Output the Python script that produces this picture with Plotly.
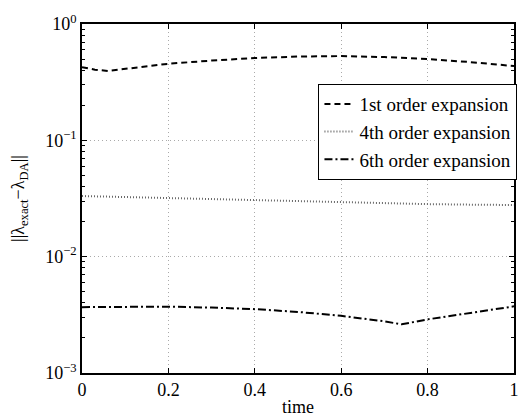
import plotly.graph_objects as go

# sample times and error norms for each expansion order
t_first = [0.0, 0.03, 0.06, 0.1, 0.2, 0.3, 0.4, 0.5, 0.6, 0.7, 0.8, 0.9, 1.0]
err_first = [0.425, 0.405, 0.395, 0.41, 0.455, 0.485, 0.51, 0.525, 0.53, 0.52, 0.50, 0.47, 0.435]

t_fourth = [0.0, 0.1, 0.2, 0.3, 0.4, 0.5, 0.6, 0.7, 0.8, 0.9, 1.0]
err_fourth = [0.0332, 0.0325, 0.0318, 0.0311, 0.0304, 0.0298, 0.0292, 0.0287, 0.0283, 0.0280, 0.0278]

t_sixth = [0.0, 0.1, 0.2, 0.3, 0.4, 0.5, 0.6, 0.7, 0.74, 0.8, 0.9, 1.0]
err_sixth = [0.00368, 0.00372, 0.00372, 0.00365, 0.00354, 0.00335, 0.0031, 0.00278, 0.00262, 0.00289, 0.00328, 0.00374]

y_ticks = [1e-3, 1e-2, 1e-1, 1.0]
y_ticktext = ["10<sup>−3</sup>", "10<sup>−2</sup>", "10<sup>−1</sup>", "10<sup>0</sup>"]
x_ticks = [0, 0.2, 0.4, 0.6, 0.8, 1]
x_ticktext = ["0", "0.2", "0.4", "0.6", "0.8", "1"]

FONT = "Liberation Serif"

minor_y = [m * 10 ** e for e in (-3, -2, -1) for m in range(2, 10)]

fig = go.Figure()
fig.add_trace(go.Scatter(x=t_first, y=err_first, mode="lines", name="1st order expansion",
                         line=dict(color="black", width=2, dash="6px,4px")))
fig.add_trace(go.Scatter(x=t_fourth, y=err_fourth, mode="lines", name="4th order expansion",
                         line=dict(color="#666666", width=2, dash="1px,2px")))
fig.add_trace(go.Scatter(x=t_sixth, y=err_sixth, mode="lines", name="6th order expansion",
                         line=dict(color="black", width=2, dash="8px,3px,2px,3px")))

fig.update_layout(
    width=520, height=417,
    margin=dict(l=82, r=1, t=24, b=44),
    paper_bgcolor="white", plot_bgcolor="white",
    font=dict(family=FONT, size=18, color="black"),
    showlegend=True,
    legend=dict(x=1.008, y=0.828, xanchor="right", yanchor="top",
                bordercolor="black", borderwidth=1, bgcolor="white",
                font=dict(family=FONT, size=19), tracegroupgap=0,
                itemwidth=30),
)

fig.update_xaxes(
    range=[0, 1], tickmode="array", tickvals=x_ticks, ticktext=x_ticktext,
    showgrid=True, gridcolor="#aaaaaa", griddash="1px,3px", gridwidth=1,
    showline=True, linecolor="black", linewidth=1.5, mirror="allticks",
    ticks="inside", ticklen=5, tickcolor="black", ticklabeloverflow="allow",
    tickfont=dict(family=FONT, size=18), zeroline=False,
    title=dict(text="time", font=dict(family=FONT, size=18), standoff=3),
)
fig.update_yaxes(
    type="log", range=[-3, 0], tickmode="array", tickvals=y_ticks, ticktext=y_ticktext,
    showgrid=True, gridcolor="#aaaaaa", griddash="1px,3px", gridwidth=1,
    showline=True, linecolor="black", linewidth=1.5, mirror="allticks",
    ticks="inside", ticklen=5, tickcolor="black",
    tickfont=dict(family=FONT, size=18), zeroline=False,
    minor=dict(tickmode="array", tickvals=minor_y, ticks="inside", ticklen=3,
               tickcolor="black", showgrid=False),
    title=dict(text="||λ<sub>exact</sub>−λ<sub>DA</sub>||", font=dict(family=FONT, size=18), standoff=16),
)

fig.write_html("out.html")
